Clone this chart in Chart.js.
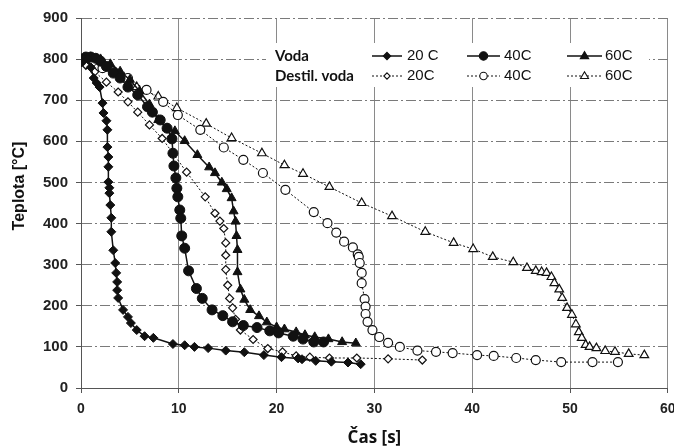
<!DOCTYPE html>
<html><head><meta charset="utf-8">
<script src="https://cdn.jsdelivr.net/npm/chart.js@4"></script>
<style>html,body{margin:0;padding:0;background:#fff}</style>
</head><body>
<canvas id="c" width="674" height="448"></canvas>
<script>
// ---- data ----
const xTicks = [0, 10, 20, 30, 40, 50, 60];
const yTicks = [0, 100, 200, 300, 400, 500, 600, 700, 800, 900];
const seriesNames = ['Voda 20 C', 'Voda 40C', 'Voda 60C', 'Destil. voda 20C', 'Destil. voda 40C', 'Destil. voda 60C'];

const v20x = [0, 0.3, 0.7, 1.0, 1.3, 1.6, 1.9, 2.2, 2.3, 2.6, 2.7, 2.7, 2.8, 2.8, 2.8, 2.9, 2.9, 3.0, 3.1, 3.1, 3.3, 3.5, 3.6, 3.7, 3.7, 3.8, 4.3, 4.8, 5.1, 5.7, 6.5, 7.4, 9.4, 10.6, 11.6, 13.0, 14.8, 16.7, 18.7, 20.5, 22.2, 22.6, 24.0, 25.6, 27.3, 28.6];
const v20y = [792, 800, 800, 780, 754, 742, 732, 693, 669, 650, 628, 586, 562, 538, 501, 487, 474, 445, 414, 380, 335, 304, 280, 258, 238, 219, 190, 173, 158, 141, 126, 122, 107, 104, 100, 97, 91, 87, 80, 75, 72, 70, 66, 64, 62, 58];

const v40x = [0, 0.5, 1.0, 1.5, 2.0, 2.6, 3.3, 4.0, 4.8, 5.8, 6.8, 7.3, 8.1, 8.8, 9.3, 9.4, 9.5, 9.7, 9.8, 9.9, 10.1, 10.2, 10.3, 10.6, 11.0, 11.8, 12.4, 13.4, 14.5, 15.5, 16.6, 18.0, 19.3, 20.2, 21.7, 22.7, 23.8, 24.8];
const v40y = [795, 805, 805, 802, 795, 782, 766, 754, 732, 713, 684, 671, 652, 632, 606, 571, 540, 511, 486, 465, 433, 413, 370, 340, 285, 242, 218, 190, 176, 161, 152, 147, 139, 134, 126, 119, 112, 112];

const v60x = [0, 1.0, 2.0, 3.0, 4.0, 5.0, 6.0, 7.0, 7.9, 8.8, 9.6, 10.6, 11.9, 13.1, 13.7, 14.4, 14.9, 15.4, 15.6, 15.8, 15.9, 16.0, 16.0, 16.3, 16.7, 17.3, 18.2, 19.0, 20.0, 20.8, 22.0, 22.9, 23.9, 25.3, 26.7, 28.1];
const v60y = [800, 805, 800, 788, 770, 750, 722, 690, 652, 632, 625, 601, 567, 537, 523, 500, 484, 462, 430, 405, 370, 336, 282, 240, 215, 190, 175, 160, 148, 143, 136, 129, 124, 119, 112, 109];

const d20x = [0, 0.5, 1.4, 2.6, 3.8, 4.8, 5.8, 7.0, 8.3, 10.8, 12.7, 13.7, 14.2, 14.6, 14.8, 14.8, 14.8, 15.0, 15.2, 15.5, 15.8, 16.3, 17.6, 19.1, 20.6, 22.0, 23.4, 25.4, 28.2, 31.4, 34.9];
const d20y = [800, 785, 769, 744, 720, 696, 671, 640, 607, 525, 465, 425, 406, 388, 353, 323, 288, 250, 218, 195, 167, 141, 118, 96, 88, 78, 75, 73, 73, 71, 68];

const d40x = [0, 1.2, 2.2, 3.3, 4.8, 6.7, 8.4, 9.9, 12.2, 14.6, 16.6, 18.6, 20.9, 23.8, 25.2, 26.1, 26.9, 27.8, 28.3, 28.4, 28.5, 28.7, 28.7, 29.0, 29.1, 29.1, 29.3, 29.8, 30.5, 31.4, 32.6, 34.4, 36.3, 38.0, 40.5, 42.2, 44.5, 46.5, 49.1, 52.3, 54.9];
const d40y = [800, 795, 778, 770, 754, 725, 696, 664, 628, 585, 555, 523, 482, 428, 401, 378, 356, 342, 325, 319, 304, 280, 255, 216, 198, 180, 161, 141, 124, 110, 100, 91, 88, 85, 80, 78, 73, 68, 63, 63, 63];

const d60x = [0, 1.5, 3.0, 4.4, 5.7, 7.9, 9.8, 12.8, 15.4, 18.5, 20.8, 22.7, 25.4, 28.7, 31.8, 35.2, 38.1, 40.1, 42.1, 44.2, 45.6, 46.5, 47.1, 47.6, 48.1, 48.4, 48.9, 49.2, 49.7, 50.2, 50.6, 50.9, 51.2, 51.6, 52.0, 52.7, 53.6, 54.6, 56.0, 57.6];
const d60y = [800, 800, 782, 755, 732, 709, 681, 643, 608, 571, 542, 521, 489, 450, 418, 380, 353, 338, 319, 306, 292, 285, 282, 280, 270, 255, 240, 219, 195, 178, 155, 136, 122, 105, 100, 97, 90, 88, 83, 80];

// ---- build ----
const pts = (xs, ys) => xs.map((x, i) => ({x: x, y: ys[i]}));
const xsAll = [v20x, v40x, v60x, d20x, d40x, d60x];
const ysAll = [v20y, v40y, v60y, d20y, d40y, d60y];
const styles = ['rectRot', 'circle', 'triangle', 'rectRot', 'circle', 'triangle'];
const radii = [4.5, 5, 5.2, 4, 4.5, 5];

const datasets = xsAll.map((xs, i) => {
  const filled = i < 3;
  return {
    label: seriesNames[i],
    data: pts(xs, ysAll[i]),
    showLine: true,
    borderColor: '#111',
    borderWidth: filled ? 1.5 : 1,
    borderDash: filled ? [] : [2, 2],
    pointStyle: styles[i],
    pointRadius: radii[i],
    pointBackgroundColor: filled ? '#111' : '#fff',
    pointBorderColor: '#111',
    pointBorderWidth: filled ? 1 : 1.2,
    tension: 0
  };
});

function drawMarker(c, style, x, y, r, filled) {
  c.beginPath();
  if (style === 'rectRot') {
    c.moveTo(x, y - r); c.lineTo(x + r, y); c.lineTo(x, y + r); c.lineTo(x - r, y); c.closePath();
  } else if (style === 'circle') {
    c.arc(x, y, r, 0, Math.PI * 2);
  } else {
    c.moveTo(x, y - r); c.lineTo(x + r * 0.95, y + r * 0.6); c.lineTo(x - r * 0.95, y + r * 0.6); c.closePath();
  }
  c.fillStyle = filled ? '#111' : '#fff';
  c.fill();
  c.lineWidth = 1.1; c.strokeStyle = '#111'; c.setLineDash([]);
  c.stroke();
}

const legendPlugin = {
  id: 'customLegend',
  afterDraw(chart) {
    const c = chart.ctx;
    const L = chart.chartArea.left;
    c.save();
    c.fillStyle = '#fff';
    c.fillRect(L + 185, 43, 383, 44);
    c.fillStyle = '#111';
    c.textBaseline = 'middle';
    c.font = 'bold 15px Lato';
    c.fillText('Voda', L + 194, 56);
    c.fillText('Destil. voda', L + 194, 76);
    const x1 = [372, 467, 567], x2 = [402, 500, 602], tx = [407, 504, 605];
    const row1 = ['20 C', '40C', '60C'], row2 = ['20C', '40C', '60C'];
    const rows = [56, 76];
    for (let r = 0; r < 2; r++) {
      for (let i = 0; i < 3; i++) {
        const idx = r * 3 + i;
        const y = rows[r];
        c.beginPath();
        c.setLineDash(r === 0 ? [] : [2, 2]);
        c.lineWidth = r === 0 ? 1.5 : 1;
        c.strokeStyle = '#111';
        c.moveTo(x1[i], y); c.lineTo(x2[i], y); c.stroke();
        drawMarker(c, styles[idx], (x1[i] + x2[i]) / 2, y, radii[idx] - 0.8, r === 0);
        c.fillStyle = '#111';
        c.font = '15px "Liberation Sans"';
        c.fillText(r === 0 ? row1[i] : row2[i], tx[i], y);
      }
    }
    // y axis title
    c.save();
    c.translate(20, 186);
    c.rotate(-Math.PI / 2);
    c.textAlign = 'center';
    c.textBaseline = 'middle';
    c.font = 'bold 16px "Liberation Sans"';
    c.fillStyle = '#111';
    c.fillText('Teplota [°C]', 0, 0);
    c.restore();
    c.restore();
  }
};

new Chart(document.getElementById('c'), {
  type: 'scatter',
  data: {datasets: datasets},
  options: {
    responsive: false,
    animation: false,
    layout: {padding: {top: 18, right: 3.8, left: 0, bottom: 0}},
    plugins: {legend: {display: false}, tooltip: {enabled: false}},
    scales: {
      x: {
        type: 'linear', min: xTicks[0], max: xTicks[xTicks.length - 1],
        afterBuildTicks: s => { s.ticks = xTicks.map(v => ({value: v})); },
        afterFit: s => { s.height = 60; s.paddingLeft = 0; s.paddingRight = 0; },
        ticks: {font: {family: 'Liberation Sans', weight: 'bold', size: 14}, color: '#222', padding: 8, maxRotation: 0},
        grid: {color: '#8a8a8a', lineWidth: 1, tickLength: 5, tickColor: '#555'},
        border: {color: '#555', width: 1},
        title: {display: true, text: 'Čas [s]', color: '#111', font: {family: 'Open Sans', weight: 'bold', size: 17}, padding: {top: 0, bottom: 0}}
      },
      y: {
        type: 'linear', min: yTicks[0], max: yTicks[yTicks.length - 1],
        afterBuildTicks: s => { s.ticks = yTicks.map(v => ({value: v})); },
        afterFit: s => { s.width = 81; s.paddingTop = 0; s.paddingBottom = 0; },
        ticks: {font: {family: 'Liberation Sans', weight: 'bold', size: 15}, color: '#222', padding: 8},
        grid: {color: '#7a7a7a', lineWidth: 1, tickLength: 5, tickColor: '#555'},
        border: {color: '#555', width: 1, dash: [10, 3, 2, 3]}
      }
    }
  },
  plugins: [legendPlugin]
});
</script>
</body></html>
